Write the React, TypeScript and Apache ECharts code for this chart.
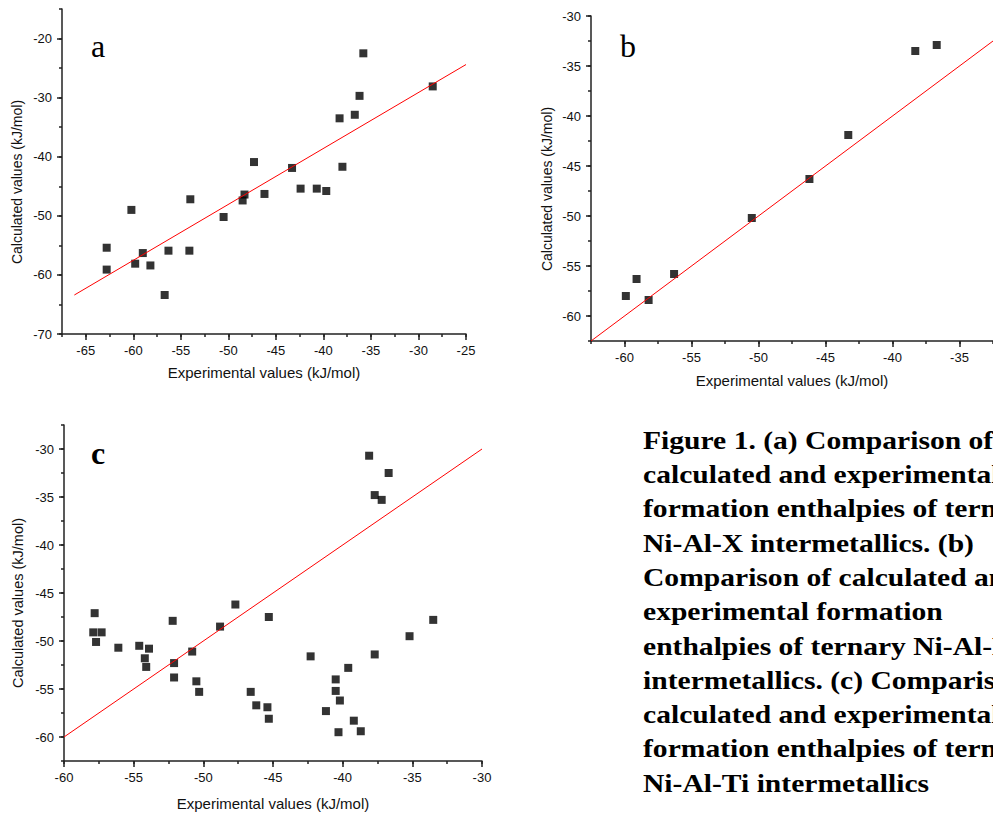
import React, { useEffect, useRef } from "react";
import * as echarts from "echarts";

// Panel a: ternary Ni-Al-X
const aExp = [-62.8, -62.8, -60.2, -59.8, -59.0, -58.2, -56.7, -56.3, -54.1, -54.0, -50.5, -48.5, -48.3, -47.3, -46.2, -43.3, -42.4, -40.7, -39.7, -38.3, -38.0, -36.7, -36.2, -35.8, -28.5];
const aCalc = [-55.4, -59.1, -49.0, -58.1, -56.3, -58.4, -63.4, -55.9, -55.9, -47.2, -50.2, -47.4, -46.4, -40.9, -46.3, -41.9, -45.4, -45.4, -45.8, -33.5, -41.7, -32.9, -29.7, -22.5, -28.1];
const aFitX = [-66.2, -25];
const aFitY = [-63.4, -24.4];

// Panel b
const bExp = [-59.9, -59.1, -58.2, -56.3, -50.5, -46.2, -43.3, -38.3, -36.7];
const bCalc = [-58.0, -56.3, -58.4, -55.8, -50.2, -46.3, -41.9, -33.5, -32.9];
const bFitX = [-62.5, -32.5];
const bFitY = [-62.5, -32.5];

// Panel c: Ni-Al-Ti
const cExp = [-57.8, -57.9, -57.3, -57.7, -56.1, -54.6, -53.9, -54.2, -54.1, -52.2, -52.1, -52.1, -50.8, -50.5, -50.3, -48.8, -47.7, -46.6, -46.2, -45.4, -45.3, -45.3, -42.3, -41.2, -40.5, -40.5, -40.2, -40.3, -39.6, -39.2, -38.7, -38.1, -37.7, -37.2, -36.7, -37.7, -35.2, -33.5];
const cCalc = [-47.1, -49.1, -49.1, -50.1, -50.7, -50.5, -50.8, -51.8, -52.7, -47.9, -52.3, -53.8, -51.1, -54.2, -55.3, -48.5, -46.2, -55.3, -56.7, -56.9, -47.5, -58.1, -51.6, -57.3, -54.0, -55.2, -56.2, -59.5, -52.8, -58.3, -59.4, -30.7, -34.8, -35.3, -32.5, -51.4, -49.5, -47.8];
const cFitX = [-60, -30];
const cFitY = [-60, -30];

// Tick labels
const aXTicks = [-65, -60, -55, -50, -45, -40, -35, -30, -25];
const aYTicks = [-70, -60, -50, -40, -30, -20];
const bXTicks = [-60, -55, -50, -45, -40, -35];
const bYTicks = [-60, -55, -50, -45, -40, -35, -30];
const cXTicks = [-60, -55, -50, -45, -40, -35, -30];
const cYTicks = [-60, -55, -50, -45, -40, -35, -30];

const xName = "Experimental values (kJ/mol)";
const yName = "Calculated values (kJ/mol)";
const panelLetters = ["a", "b", "c"];
const captionLines = [
  "Figure 1. (a) Comparison of",
  "calculated and experimental",
  "formation enthalpies of ternary",
  "Ni-Al-X intermetallics. (b)",
  "Comparison of calculated and",
  "experimental formation",
  "enthalpies of ternary Ni-Al-M",
  "intermetallics. (c) Comparison of",
  "calculated and experimental",
  "formation enthalpies of ternary",
  "Ni-Al-Ti intermetallics",
];

const SANS = "'Liberation Sans', Arial, sans-serif";
const SERIF = "'Liberation Serif', 'Times New Roman', serif";
const LINE = { color: "#222", width: 1.5 };
const LABEL = { fontFamily: SANS, fontSize: 13, color: "#111" };

function xAxes(grid: number, min: number, max: number, majors: number[], minor: number, nameGap: number) {
  return [
    {
      type: "value", gridIndex: grid, min, max, position: "bottom",
      name: xName, nameLocation: "middle", nameGap,
      nameTextStyle: { fontFamily: SANS, fontSize: 15, color: "#111" },
      axisLine: { show: true, onZero: false, lineStyle: LINE },
      axisTick: { show: true, customValues: majors, length: 6, inside: false, lineStyle: LINE },
      axisLabel: { show: true, customValues: majors, margin: 10, ...LABEL },
      splitLine: { show: false },
    },
    {
      type: "value", gridIndex: grid, min, max, interval: minor, position: "bottom",
      axisLine: { show: false, onZero: false },
      axisTick: { show: true, length: 3, inside: false, lineStyle: LINE },
      axisLabel: { show: false },
      splitLine: { show: false },
    },
  ];
}

function yAxes(grid: number, min: number, max: number, majors: number[], minor: number) {
  return [
    {
      type: "value", gridIndex: grid, min, max, position: "left",
      axisLine: { show: true, onZero: false, lineStyle: LINE },
      axisTick: { show: true, customValues: majors, length: 5, inside: false, lineStyle: LINE },
      axisLabel: { show: true, customValues: majors, margin: 10, ...LABEL },
      splitLine: { show: false },
    },
    {
      type: "value", gridIndex: grid, min, max, interval: minor, position: "left",
      axisLine: { show: false, onZero: false },
      axisTick: { show: true, length: 3, inside: false, lineStyle: LINE },
      axisLabel: { show: false },
      splitLine: { show: false },
    },
  ];
}

function zip(xs: number[], ys: number[]) {
  return xs.map((x, i) => [x, ys[i]]);
}

function scatter(axis: number, xs: number[], ys: number[]) {
  return {
    type: "scatter", xAxisIndex: axis, yAxisIndex: axis,
    data: zip(xs, ys), symbol: "rect", symbolSize: 8,
    itemStyle: { color: "#000" },
  };
}

function fit(axis: number, xs: number[], ys: number[]) {
  return {
    type: "line", xAxisIndex: axis, yAxisIndex: axis,
    data: zip(xs, ys), symbol: "none",
    lineStyle: { color: "#ff0000", width: 1 },
  };
}

function yTitle(x: number, y: number, size: number) {
  return {
    type: "text", x, y, rotation: Math.PI / 2,
    style: { text: yName, font: `${size}px ${SANS}`, fill: "#111", align: "center", verticalAlign: "middle" },
  };
}

export default function App() {
  const ref = useRef<HTMLDivElement>(null);
  useEffect(() => {
    if (!ref.current) return;
    const chart = echarts.init(ref.current, undefined, { renderer: "svg" });
    const graphic: any[] = [
      { type: "text", left: 91, top: 30, style: { text: panelLetters[0], font: `32px ${SERIF}`, fill: "#000" } },
      { type: "text", left: 620, top: 30, style: { text: panelLetters[1], font: `32px ${SERIF}`, fill: "#000" } },
      { type: "text", left: 91, top: 437, style: { text: panelLetters[2], font: `bold 32px ${SERIF}`, fill: "#000" } },
      yTitle(17, 182, 14),
      yTitle(547, 189, 14),
      yTitle(17.5, 603, 14.5),
    ];
    captionLines.forEach((t, i) => {
      graphic.push({
        type: "text", x: 643, y: 440 + i * 34.3, scaleX: 1.16,
        style: { text: t, font: `bold 25.5px ${SERIF}`, fill: "#000", verticalAlign: "middle", align: "left" },
      });
    });
    chart.setOption({
      animation: false,
      backgroundColor: "#fff",
      grid: [
        { left: 62, top: 9, width: 404, height: 325 },
        { left: 591, top: 16, width: 405, height: 325 },
        { left: 64, top: 425, width: 418, height: 336 },
      ],
      xAxis: [
        ...xAxes(0, -67.5, -25, aXTicks, 2.5, 31),
        ...xAxes(1, -62.5, -32.5, bXTicks, 2.5, 31.5),
        ...xAxes(2, -60, -30, cXTicks, 2.5, 34.5),
      ],
      yAxis: [
        ...yAxes(0, -70, -15, aYTicks, 5),
        ...yAxes(1, -62.5, -30, bYTicks, 2.5),
        ...yAxes(2, -62.5, -27.5, cYTicks, 2.5),
      ],
      series: [
        fit(0, aFitX, aFitY),
        scatter(0, aExp, aCalc),
        fit(2, bFitX, bFitY),
        scatter(2, bExp, bCalc),
        fit(4, cFitX, cFitY),
        scatter(4, cExp, cCalc),
      ],
      graphic,
    });
    return () => chart.dispose();
  }, []);
  return (
    <div
      ref={ref}
      style={{ position: "absolute", left: 0, top: 0, width: 993, height: 813, overflow: "hidden" }}
    />
  );
}
